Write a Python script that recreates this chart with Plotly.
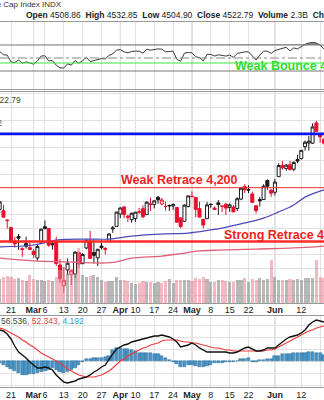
import plotly.graph_objects as go

# ---------------- data ----------------
dates = ["2023-02-15","2023-02-16","2023-02-17","2023-02-21","2023-02-22","2023-02-23","2023-02-24",
         "2023-02-27","2023-02-28","2023-03-01","2023-03-02","2023-03-03","2023-03-06","2023-03-07",
         "2023-03-08","2023-03-09","2023-03-10","2023-03-13","2023-03-14","2023-03-15","2023-03-16",
         "2023-03-17","2023-03-20","2023-03-21","2023-03-22","2023-03-23","2023-03-24","2023-03-27",
         "2023-03-28","2023-03-29","2023-03-30","2023-03-31","2023-04-03","2023-04-04","2023-04-05",
         "2023-04-06","2023-04-10","2023-04-11","2023-04-12","2023-04-13","2023-04-14","2023-04-17",
         "2023-04-18","2023-04-19","2023-04-20","2023-04-21","2023-04-24","2023-04-25","2023-04-26",
         "2023-04-27","2023-04-28","2023-05-01","2023-05-02","2023-05-03","2023-05-04","2023-05-05",
         "2023-05-08","2023-05-09","2023-05-10","2023-05-11","2023-05-12","2023-05-15","2023-05-16",
         "2023-05-17","2023-05-18","2023-05-19","2023-05-22","2023-05-23","2023-05-24","2023-05-25",
         "2023-05-26","2023-05-30","2023-05-31","2023-06-01","2023-06-02","2023-06-05","2023-06-06",
         "2023-06-07","2023-06-08","2023-06-09","2023-06-12","2023-06-13","2023-06-14","2023-06-15",
         "2023-06-16","2023-06-20","2023-06-21"]

opens = [4119.50,4114.75,4077.39,4052.35,4001.83,4018.60,3973.24,3992.36,3977.19,3963.34,3938.68,3998.02,
         4055.15,4048.26,3987.55,3998.66,3912.77,3835.12,3894.01,3876.74,3878.93,3958.69,3917.47,3975.89,
         4002.04,3959.21,3939.21,3982.93,3974.13,3999.53,4046.74,4056.18,4102.20,4128.03,4094.50,4081.15,
         4085.20,4110.29,4121.72,4100.04,4140.11,4137.17,4164.26,4139.33,4130.48,4132.14,4132.07,4126.43,
         4087.78,4075.29,4129.63,4166.79,4164.10,4122.25,4082.61,4084.73,4136.98,4124.25,4143.74,4132.24,
         4138.54,4126.65,4127.95,4122.85,4157.68,4204.15,4190.78,4176.80,4132.96,4155.71,4156.16,4226.71,
         4190.74,4183.03,4241.01,4282.99,4271.61,4285.47,4268.69,4304.88,4308.32,4352.61,4366.29,4365.33,
         4440.95,4396.11,4380.01]
highs = [4148.11,4136.54,4081.51,4052.35,4017.37,4028.30,3978.25,4018.05,3997.50,3971.73,3990.84,4048.29,
         4078.49,4050.00,4000.41,4017.81,3934.05,3905.05,3937.29,3894.26,3964.46,3958.91,3956.62,4009.08,
         4039.49,4007.66,3972.74,4003.83,3979.20,4030.59,4057.85,4110.75,4127.66,4133.13,4099.69,4107.32,
         4109.50,4124.26,4134.37,4150.26,4163.19,4151.72,4169.48,4162.57,4148.57,4138.02,4142.41,4126.43,
         4089.67,4138.24,4170.06,4186.92,4164.10,4148.30,4082.61,4147.02,4142.30,4130.35,4154.28,4132.80,
         4143.74,4141.25,4135.54,4164.67,4202.20,4212.91,4209.22,4185.68,4132.96,4165.74,4212.87,4231.10,
         4195.44,4232.43,4290.67,4299.28,4288.33,4299.19,4298.01,4322.62,4340.13,4375.37,4391.82,4439.20,
         4448.47,4400.15,4386.22]
lows = [4103.98,4089.89,4047.95,3995.19,3976.90,3969.19,3943.08,3973.55,3968.98,3939.05,3928.16,3995.17,
        4044.61,3980.31,3969.76,3908.70,3846.32,3808.86,3873.63,3838.24,3864.11,3901.27,3916.89,3971.19,
        3936.17,3919.05,3909.16,3970.47,3951.53,3999.53,4032.10,4056.18,4086.87,4086.87,4072.56,4069.84,
        4072.55,4102.61,4086.94,4099.40,4113.20,4123.18,4140.36,4134.49,4114.57,4113.86,4117.77,4071.38,
        4049.35,4075.29,4127.18,4164.12,4089.72,4088.86,4048.28,4084.73,4123.81,4116.65,4098.92,4109.29,
        4099.12,4110.27,4109.86,4113.62,4153.50,4180.20,4179.68,4142.54,4103.98,4129.73,4156.16,4192.18,
        4166.15,4171.64,4241.01,4266.82,4263.09,4263.96,4261.07,4291.70,4304.37,4337.85,4337.85,4362.60,
        4407.44,4367.19,4360.14]
closes = [4147.60,4090.41,4079.09,3997.34,3991.05,4012.32,3970.04,3982.24,3970.15,3951.39,3981.35,4045.64,
          4048.42,3986.37,3992.01,3918.32,3861.59,3855.76,3919.29,3891.93,3960.28,3916.64,3951.57,4002.87,
          3936.97,3948.72,3970.99,3977.53,3971.27,4027.81,4050.83,4109.31,4124.51,4100.60,4090.38,4105.02,
          4109.11,4108.94,4091.95,4146.22,4137.64,4151.32,4154.87,4154.52,4129.79,4133.52,4137.04,4071.63,
          4055.99,4135.35,4169.48,4167.87,4119.58,4090.75,4061.22,4136.25,4138.12,4119.17,4137.64,4130.62,
          4124.08,4136.28,4109.90,4158.77,4198.05,4191.98,4192.63,4145.58,4115.24,4151.28,4205.45,4205.52,
          4179.83,4221.02,4282.37,4273.79,4283.85,4267.52,4293.93,4298.86,4338.93,4369.01,4372.59,4425.84,
          4409.59,4388.71,4365.69]
close_before_first = 4136.13

volumes_b = [2.4,2.6,2.7,2.6,2.4,2.5,2.3,2.2,2.8,2.4,2.3,2.3,2.2,2.3,2.2,2.6,3.3,3.6,3.0,3.4,3.0,5.5,
             2.8,2.6,2.7,2.8,2.6,2.3,2.1,2.2,2.2,2.6,2.3,2.3,2.2,2.0,1.9,2.0,2.2,2.1,2.1,2.0,2.1,2.0,
             2.2,2.4,2.0,2.3,2.3,2.3,2.3,2.2,2.5,2.4,2.6,2.4,2.1,2.1,2.3,2.3,2.2,2.1,2.1,2.3,2.3,2.5,
             2.1,2.4,2.3,2.5,2.3,2.4,4.3,2.6,2.3,2.3,2.3,2.4,2.3,2.4,2.3,2.5,2.5,2.5,4.3,2.6,2.5]

rsi14 = [60,55,54.5,44,43,47,42,44,42.5,40.5,45.5,53,53.5,45.5,46,39,35,34.5,41,39,46,42,46,51,44.5,46,
         48.5,49,48.5,54,56.5,62,63,59.5,58,60,60.5,60.5,57.5,63.5,62,63.5,64,63.5,59.5,60,60.5,48,45,
         57.5,58.5,58,52,50.5,45.5,55.5,55.5,53,55,54,53,54.5,51,57,58.5,59.5,59.5,53.5,47,54.5,60.5,
         60.5,57,61.5,63,65.5,66.5,61,65.5,64,67.5,71,73,74,73,70,64]

macd_line = [51.7,50.0,45.0,36.7,25.0,15.0,10.0,5.0,-1.7,-6.7,-11.7,-11.7,-10.0,-11.7,-15.0,-23.3,-30.0,
             -35.0,-36.7,-35.0,-33.3,-30.0,-28.3,-26.7,-23.3,-18.3,-15.0,-10.0,-6.7,3.3,11.7,20.0,23.3,
             26.7,28.3,31.7,33.3,35.0,36.7,38.3,40.0,41.7,41.7,43.3,41.7,40.0,36.7,31.7,23.3,25.0,26.7,
             30.0,26.7,21.7,18.3,15.0,15.0,15.0,15.0,15.0,15.0,13.3,13.3,15.0,18.3,21.7,23.3,20.0,16.7,
             16.7,18.3,21.7,21.7,21.7,26.7,31.7,36.7,40.0,41.7,43.3,46.7,51.7,60.0,65.0,68.3,66.7,65.0]
macd_signal = [55.0,53.3,50.0,46.7,43.3,40.0,35.0,31.7,26.7,23.3,18.3,13.3,10.0,6.7,3.3,0.0,-3.3,-8.3,
               -13.3,-16.7,-20.0,-23.3,-25.0,-26.7,-26.7,-26.7,-25.0,-23.3,-20.0,-16.7,-11.7,-5.0,0.0,3.3,
               8.3,11.7,15.0,18.3,21.7,23.3,26.7,28.3,30.0,33.3,35.0,35.0,35.0,35.0,33.3,31.7,31.7,30.0,
               30.0,28.3,26.7,25.0,23.3,21.7,21.7,20.0,18.3,18.3,16.7,16.7,16.7,16.7,16.7,16.7,16.7,16.7,
               16.7,18.3,18.3,20.0,23.3,26.7,30.0,33.3,36.7,40.0,43.3,46.7,50.0,51.7,55.0,56.7,58.3]
macd_hist = [-3.3,-6.7,-10.0,-13.3,-16.7,-20.0,-23.3,-23.3,-21.7,-21.7,-20.0,-18.3,-16.7,-15.0,-11.7,-15.0,
             -18.3,-20.0,-18.3,-15.0,-11.7,-6.7,-1.7,3.3,3.3,5.0,5.0,5.0,6.7,8.3,18.3,21.7,21.7,20.0,20.0,
             18.3,16.7,13.3,13.3,13.3,13.3,11.7,11.7,8.3,5.0,1.7,-1.7,-5.0,-10.0,-10.0,-6.7,-6.7,-8.3,-10.0,
             -10.0,-8.3,-6.7,-3.3,-3.3,-3.3,-1.7,-1.7,-1.7,0.0,3.3,3.3,5.0,-1.7,-1.7,1.7,1.7,3.3,3.3,8.3,
             8.3,11.7,11.7,11.7,13.3,13.3,13.3,13.3,15.0,15.0,13.3,13.3,10.0]

# moving averages read at selected dates
ma50_dates = ["2023-02-15","2023-03-01","2023-03-09","2023-03-21","2023-03-29","2023-04-06","2023-04-20",
              "2023-04-28","2023-05-08","2023-05-11","2023-05-19","2023-05-26","2023-06-02","2023-06-08",
              "2023-06-13","2023-06-21"]
ma50_vals = [3980,3987,4005,4009,4009,4020,4028,4031,4043,4050,4069,4087,4110,4136,4165,4192]
ma200_dates = ["2023-02-15","2023-03-01","2023-03-14","2023-03-27","2023-03-31","2023-04-06","2023-04-19",
               "2023-04-26","2023-05-03","2023-05-10","2023-05-17","2023-05-24","2023-06-08","2023-06-21"]
ma200_vals = [3938,3928,3924,3920,3924,3938,3946,3955,3965,3968,3970,3972,3976,3983]

levels = [4400, 4200, 4000]
level_names = ["", "Weak Retrace 4,200", "Strong Retrace 4,000"]
bounce_label = "Weak Bounce 4,600"
bounce_rsi_level = 42.3

tick_dates = ["2023-02-21","2023-03-01","2023-03-06","2023-03-13","2023-03-20","2023-03-27","2023-04-03",
              "2023-04-10","2023-04-17","2023-04-24","2023-05-01","2023-05-08","2023-05-15","2023-05-22",
              "2023-06-01","2023-06-12","2023-06-20"]
tick_text = ["21","<b>Mar</b>","6","13","20","27","<b>Apr</b>","10","17","24","<b>May</b>","8","15","22",
             "<b>Jun</b>","12","20"]
month_tick_dates = ["2023-03-01","2023-04-03","2023-05-01","2023-06-01"]

# ---------------- layout helpers ----------------
W, H = 324, 400
FONT = "Liberation Sans, Arial, sans-serif"
FIRST = -3  # index of first record relative to Feb 21
xi = [FIRST + i for i in range(len(dates))]
pos = {d: FIRST + i for i, d in enumerate(dates)}

def fy(px):
    return 1 - px / H

X_RANGE = [(0 - 11) / 3.77, (W - 11) / 3.77]

RED = "#e8102e"
BLK = "#1a1a1a"

fig = go.Figure()

# volume (overlay in price panel)
prevs = [close_before_first] + closes[:-1]
up = [c >= p for c, p in zip(closes, prevs)]
vol_colors = ["rgba(140,140,140,0.62)" if u else "rgba(232,128,145,0.55)" for u in up]
fig.add_trace(go.Bar(x=xi, y=volumes_b, marker=dict(color=vol_colors, line=dict(width=0)),
                     width=0.82, xaxis="x", yaxis="y2", showlegend=False, hoverinfo="skip"))

# moving averages
fig.add_trace(go.Scatter(x=[pos[d] for d in ma200_dates], y=ma200_vals, mode="lines",
                         line=dict(color="#e0607a", width=1.3, shape="spline"), xaxis="x", yaxis="y",
                         showlegend=False, hoverinfo="skip"))
fig.add_trace(go.Scatter(x=[pos[d] for d in ma50_dates], y=ma50_vals, mode="lines",
                         line=dict(color="#4a4ab8", width=1.2, shape="spline"), xaxis="x", yaxis="y",
                         showlegend=False, hoverinfo="skip"))

# candles: black when close >= prior close, red otherwise; hollow when close > open
for flag, col in ((True, BLK), (False, RED)):
    sel = [i for i in range(len(xi)) if up[i] == flag]
    fig.add_trace(go.Candlestick(
        x=[xi[i] for i in sel], open=[opens[i] for i in sel], high=[highs[i] for i in sel],
        low=[lows[i] for i in sel], close=[closes[i] for i in sel],
        increasing=dict(line=dict(color=col, width=1), fillcolor="white"),
        decreasing=dict(line=dict(color=col, width=1), fillcolor=col),
        whiskerwidth=0, xaxis="x", yaxis="y", showlegend=False, hoverinfo="skip"))

# RSI panel
fig.add_trace(go.Scatter(x=xi, y=[70] * len(xi), mode="lines", line=dict(width=0, color="rgba(0,0,0,0)"),
                         xaxis="x2", yaxis="y3", showlegend=False, hoverinfo="skip"))
fig.add_trace(go.Scatter(x=xi, y=[max(v, 70) for v in rsi14], mode="lines", line=dict(width=0),
                         fill="tonexty", fillcolor="rgba(90,110,90,0.75)", xaxis="x2", yaxis="y3",
                         showlegend=False, hoverinfo="skip"))
fig.add_trace(go.Scatter(x=xi, y=rsi14, mode="lines", line=dict(color="#3a3a3a", width=1),
                         xaxis="x2", yaxis="y3", showlegend=False, hoverinfo="skip"))

# MACD panel
fig.add_trace(go.Bar(x=xi, y=macd_hist, width=0.85,
                     marker=dict(color="#4a93c4", line=dict(color="#2b6e9c", width=0.5)),
                     xaxis="x3", yaxis="y4", showlegend=False, hoverinfo="skip"))
fig.add_trace(go.Scatter(x=xi, y=macd_signal, mode="lines", line=dict(color="#f03a3a", width=1.1),
                         xaxis="x3", yaxis="y4", showlegend=False, hoverinfo="skip"))
fig.add_trace(go.Scatter(x=xi, y=macd_line, mode="lines", line=dict(color="#111111", width=1.4),
                         xaxis="x3", yaxis="y4", showlegend=False, hoverinfo="skip"))

tickvals = [pos[d] for d in tick_dates]
GRID = "#e2e2e2"
axis_common = dict(range=X_RANGE, tickvals=tickvals, showgrid=True, gridcolor=GRID, gridwidth=1,
                   zeroline=False, showline=True, mirror=True, linecolor="#9a9a9a", linewidth=1,
                   ticks="", fixedrange=True, tickangle=0)

MAIN = (92, 303)
RSI = (22, 89)
MACD = (316, 387)

def yrange_from(px_top, px_bot, v_at_a, px_a, px_per_unit):
    top = v_at_a + (px_a - px_top) / px_per_unit
    bot = v_at_a - (px_bot - px_a) / px_per_unit
    return [bot, top]

price_rng = yrange_from(MAIN[0], MAIN[1], 4200, 187.7, 0.269)
rsi_rng = yrange_from(RSI[0], RSI[1], 70, 45, 0.65)
macd_rng = yrange_from(MACD[0], MACD[1], 0, 361, 0.6)

fig.update_layout(
    width=W, height=H, margin=dict(l=0, r=0, t=0, b=0),
    paper_bgcolor="white", plot_bgcolor="white",
    boxgap=0.12, boxgroupgap=0.1, bargap=0,
    font=dict(family=FONT, size=9, color="#333"),
    xaxis=dict(axis_common, anchor="y", domain=[0, 1], ticktext=tick_text, showticklabels=True,
               tickfont=dict(size=9, color="#222"), rangeslider=dict(visible=False),
               ticklabelstandoff=-2),
    yaxis=dict(domain=[fy(MAIN[1]), fy(MAIN[0])], range=price_rng, dtick=50, tick0=0,
               showgrid=True, gridcolor=GRID, showticklabels=False, zeroline=False, fixedrange=True),
    yaxis2=dict(domain=[fy(MAIN[1]), fy(MAIN[0])], range=[0, (MAIN[1] - MAIN[0]) / 10.0],
                overlaying="y", showgrid=False, showticklabels=False, zeroline=False, fixedrange=True),
    xaxis2=dict(axis_common, anchor="y3", showticklabels=False),
    yaxis3=dict(domain=[fy(RSI[1]), fy(RSI[0])], range=rsi_rng, showgrid=False, showticklabels=False,
                zeroline=False, fixedrange=True),
    xaxis3=dict(axis_common, anchor="y4", ticktext=tick_text, showticklabels=True,
                tickfont=dict(size=9, color="#222"), ticklabelstandoff=-1),
    yaxis4=dict(domain=[fy(MACD[1]), fy(MACD[0])], range=macd_rng, dtick=20, tick0=0, showgrid=True,
                gridcolor=GRID, showticklabels=False, zeroline=False, fixedrange=True),
)

shapes = []
# darker month separators in every panel
for d in month_tick_dates:
    for (a, b) in (MAIN, RSI, MACD):
        shapes.append(dict(type="line", xref="x", yref="paper", x0=pos[d], x1=pos[d],
                           y0=fy(b), y1=fy(a), line=dict(color="#bdbdbd", width=1), layer="below"))
# RSI reference lines
shapes.append(dict(type="line", xref="paper", yref="y3", x0=0, x1=1, y0=70, y1=70,
                   line=dict(color="#777", width=1)))
shapes.append(dict(type="line", xref="paper", yref="y3", x0=0, x1=1, y0=30, y1=30,
                   line=dict(color="#777", width=1)))
shapes.append(dict(type="line", xref="paper", yref="y3", x0=0, x1=1, y0=50, y1=50,
                   line=dict(color="#888", width=1, dash="dashdot")))
shapes.append(dict(type="line", xref="paper", yref="y3", x0=0, x1=1, y0=bounce_rsi_level,
                   y1=bounce_rsi_level, line=dict(color="#3ee83e", width=1.2)))
# price levels
shapes.append(dict(type="line", xref="paper", yref="y", x0=0, x1=1, y0=levels[0], y1=levels[0],
                   line=dict(color="#0a14f0", width=2.6)))
shapes.append(dict(type="line", xref="paper", yref="y", x0=0, x1=1, y0=levels[1], y1=levels[1],
                   line=dict(color="#f03030", width=1)))
shapes.append(dict(type="line", xref="paper", yref="y", x0=0, x1=1, y0=levels[2], y1=levels[2],
                   line=dict(color="#ff2a2a", width=2.6)))
fig.update_layout(shapes=shapes)

ann = []
ann.append(dict(text="S&amp;P 500 Large Cap Index INDX", x=64 / W, y=fy(5), xref="paper", yref="paper",
                xanchor="right", yanchor="middle", showarrow=False, font=dict(size=8, color="#333")))
ann.append(dict(text="<b>Open</b> 4508.86  <b>High</b> 4532.85  <b>Low</b> 4504.90  <b>Close</b> 4522.79  "
                     "<b>Volume</b> 2.3B  <b>Chg</b> +17.89 (+0.40%)",
                x=24 / W, y=fy(14.5), xref="paper", yref="paper", xanchor="left", yanchor="middle",
                showarrow=False, font=dict(size=8.5, color="#222")))
ann.append(dict(text="$SPX (Daily) 4522.79", x=23 / W, y=fy(100), xref="paper", yref="paper",
                xanchor="right", yanchor="middle", showarrow=False, font=dict(size=8.5, color="#444")))
ann.append(dict(text="MA(50) 4282.42", x=4 / W, y=fy(123), xref="paper", yref="paper",
                xanchor="right", yanchor="middle", showarrow=False, font=dict(size=8.5, color="#555")))
ann.append(dict(text="<b>" + level_names[1] + "</b>", x=119 / W, y=levels[1], xref="paper", yref="y",
                xanchor="left", yanchor="middle", yshift=8, showarrow=False,
                font=dict(size=12.5, color="#f01e1e")))
ann.append(dict(text="<b>" + level_names[2] + "</b>", x=222 / W, y=levels[2], xref="paper", yref="y",
                xanchor="left", yanchor="middle", yshift=7, showarrow=False,
                font=dict(size=12.5, color="#f01e1e")))
ann.append(dict(text="<b>" + bounce_label + "</b>", x=233 / W, y=fy(66), xref="paper", yref="paper",
                xanchor="left", yanchor="middle", showarrow=False, font=dict(size=12.5, color="#2ee02e")))
ann.append(dict(text='<span style="color:#444">56.536</span><span style="color:#f03a3a">, 52.343</span>'
                     '<span style="color:#3399cc">, 4.192</span>',
                x=-1 / W, y=fy(321), xref="paper", yref="paper", xanchor="left", yanchor="middle",
                showarrow=False, font=dict(size=8.5)))
fig.update_layout(annotations=ann)

fig.write_html("out.html")
